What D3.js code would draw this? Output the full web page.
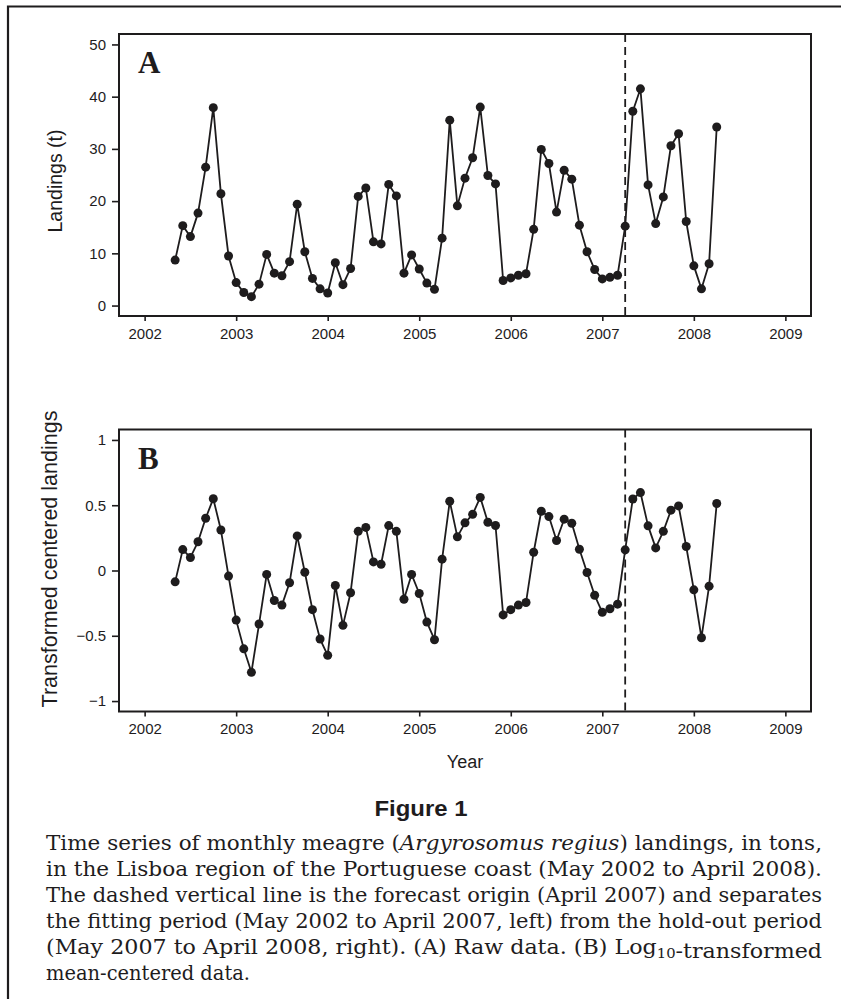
<!DOCTYPE html>
<html>
<head>
<meta charset="utf-8">
<script src="https://cdn.jsdelivr.net/npm/d3@7"></script>
<style>
  html, body { margin: 0; padding: 0; background: #fff; }
  svg { display: block; }
</style>
</head>
<body>
<svg id="fig" width="841" height="999"></svg>
<script>
// ---------------- DATA ----------------
const startYear = 2002;
const startMonth = 5; // May 2002, monthly to April 2008
const landings = [
  8.7, 15.3, 13.2, 17.7, 26.5, 37.9, 21.4, 9.5,
  4.4, 2.5, 1.7, 4.1, 9.8, 6.2, 5.7, 8.4, 19.4, 10.3, 5.2, 3.2,
  2.4, 8.2, 4.0, 7.1, 20.9, 22.5, 12.2, 11.8, 23.2, 21.0, 6.2, 9.7,
  7.0, 4.3, 3.1, 12.9, 35.5, 19.1, 24.4, 28.3, 38.0, 24.9, 23.3, 4.8,
  5.3, 5.8, 6.1, 14.6, 29.9, 27.2, 17.9, 25.9, 24.2, 15.4, 10.3, 6.9,
  5.1, 5.4, 5.8, 15.2, 37.2, 41.5, 23.1, 15.7, 20.8, 30.6, 32.9, 16.1,
  7.6, 3.2, 8.0, 34.2
];
const transformed = [
  -0.087, 0.16, 0.10, 0.22, 0.40, 0.55, 0.31, -0.043,
  -0.38, -0.60, -0.78, -0.41, -0.03, -0.23, -0.265, -0.094, 0.265, -0.013, -0.30, -0.525,
  -0.65, -0.115, -0.42, -0.17, 0.30, 0.33, 0.066, 0.048, 0.344, 0.30, -0.22, -0.03,
  -0.176, -0.395, -0.53, 0.087, 0.53, 0.258, 0.365, 0.43, 0.56, 0.37, 0.345, -0.34,
  -0.30, -0.265, -0.245, 0.14, 0.454, 0.413, 0.23, 0.393, 0.362, 0.163, -0.015, -0.19,
  -0.32, -0.293, -0.258, 0.158, 0.548, 0.597, 0.342, 0.173, 0.30, 0.462, 0.495, 0.184,
  -0.148, -0.515, -0.12, 0.513
];
const yearTicks = [2002, 2003, 2004, 2005, 2006, 2007, 2008, 2009];
const ticksA = [0, 10, 20, 30, 40, 50];
const ticksB = [-1, -0.5, 0, 0.5, 1];
const tickLabelsB = ["\u22121", "\u22120.5", "0", "0.5", "1"];
const forecastOrigin = 2007 + 3 / 12; // April 2007
const captionLines = [
  ["Time series of monthly meagre (", {i: "Argyrosomus regius"}, ") landings, in tons,"],
  ["in the Lisboa region of the Portuguese coast (May 2002 to April 2008)."],
  ["The dashed vertical line is the forecast origin (April 2007) and separates"],
  ["the fitting period (May 2002 to April 2007, left) from the hold-out period"],
  ["(May 2007 to April 2008, right). (A) Raw data. (B) Log", {sub: "10"}, "-transformed"],
  ["mean-centered data."]
];

// time coordinate (decimal year) for each month
const times = landings.map((_, i) => startYear + (startMonth - 1 + i) / 12);

// ---------------- DRAW ----------------
const svg = d3.select("#fig");
const ink = "#1e1c1d";

svg.append("path")
  .attr("d", "M8,999 V6.5 H841")
  .attr("fill", "none").attr("stroke", ink).attr("stroke-width", 2.2);

const plotLeft = 119, plotRight = 811;
const x = d3.scaleLinear().domain([2001.72, 2009.28]).range([plotLeft, plotRight]);

function panel(opts) {
  const y = d3.scaleLinear().domain(opts.ydom).range([opts.bottom, opts.top]);
  const g = svg.append("g");

  const xa = d3.axisBottom(x).tickValues(yearTicks).tickFormat(d3.format("d"))
    .tickSize(5).tickPadding(7);
  const gx = g.append("g").attr("transform", `translate(0,${opts.bottom})`).call(xa);
  gx.select(".domain").remove();
  gx.selectAll("line").attr("stroke", ink).attr("stroke-width", 1.6);
  gx.selectAll("text").attr("font-family", "Liberation Sans, Arial, sans-serif")
    .attr("font-size", 15).attr("fill", ink);

  const ya = d3.axisLeft(y).tickValues(opts.ticks)
    .tickFormat((d, i) => opts.labels ? opts.labels[i] : d3.format("d")(d))
    .tickSize(7).tickPadding(6);
  const gy = g.append("g").attr("transform", `translate(${plotLeft},0)`).call(ya);
  gy.select(".domain").remove();
  gy.selectAll("line").attr("stroke", ink).attr("stroke-width", 1.6);
  gy.selectAll("text").attr("font-family", "Liberation Sans, Arial, sans-serif")
    .attr("font-size", 15).attr("fill", ink);

  g.append("line")
    .attr("x1", x(forecastOrigin)).attr("x2", x(forecastOrigin))
    .attr("y1", opts.top).attr("y2", opts.bottom)
    .attr("stroke", ink).attr("stroke-width", 1.8)
    .attr("stroke-dasharray", "8,5");

  const line = d3.line().x((d, i) => x(times[i])).y(d => y(d));
  g.append("path").datum(opts.values)
    .attr("d", line).attr("fill", "none")
    .attr("stroke", ink).attr("stroke-width", 1.8).attr("stroke-linejoin", "round");

  g.selectAll("circle.pt").data(opts.values).join("circle")
    .attr("class", "pt")
    .attr("cx", (d, i) => x(times[i])).attr("cy", d => y(d))
    .attr("r", 4.5).attr("fill", ink);

  g.append("rect")
    .attr("x", plotLeft).attr("y", opts.top)
    .attr("width", plotRight - plotLeft).attr("height", opts.bottom - opts.top)
    .attr("fill", "none").attr("stroke", ink).attr("stroke-width", 2);

  g.append("text").attr("x", 138).attr("y", opts.top + 39)
    .attr("font-family", "Liberation Serif, Times New Roman, serif")
    .attr("font-weight", "bold").attr("font-size", 31).attr("fill", ink)
    .text(opts.letter);

  g.append("text")
    .attr("transform", `translate(${opts.ylabX},${opts.ylabY}) rotate(-90)`)
    .attr("text-anchor", "middle")
    .attr("font-family", "Liberation Sans, Arial, sans-serif")
    .attr("font-size", opts.ylabSize).attr("fill", ink)
    .text(opts.ylab);
  return y;
}

panel({ top: 34, bottom: 316, ydom: [-2, 52], ticks: ticksA, values: landings,
        letter: "A", ylab: "Landings (t)", ylabSize: 19.5, ylabX: 62, ylabY: 181 });
panel({ top: 429.5, bottom: 711.5, ydom: [-1.08, 1.08], ticks: ticksB, labels: tickLabelsB,
        values: transformed, letter: "B", ylab: "Transformed centered landings",
        ylabSize: 21.5, ylabX: 57, ylabY: 559 });

svg.append("text").attr("x", (plotLeft + plotRight) / 2).attr("y", 768)
  .attr("text-anchor", "middle")
  .attr("font-family", "Liberation Sans, Arial, sans-serif")
  .attr("font-size", 18).attr("fill", ink).text("Year");

svg.append("text").attr("x", 421).attr("y", 816)
  .attr("text-anchor", "middle")
  .attr("font-family", "Liberation Sans, Arial, sans-serif")
  .attr("font-weight", "bold").attr("font-size", 22).attr("fill", ink)
  .attr("textLength", 93).attr("lengthAdjust", "spacingAndGlyphs")
  .text("Figure 1");

const capX = 46, capW = 776, capY0 = 850, capDy = 26;
captionLines.forEach((parts, li) => {
  const t = svg.append("text")
    .attr("x", capX).attr("y", capY0 + li * capDy)
    .attr("font-family", "DejaVu Serif, serif")
    .attr("font-size", 19.5).attr("fill", ink);
  parts.forEach(p => {
    if (typeof p === "string") t.append("tspan").text(p);
    else if (p.i) t.append("tspan").attr("font-style", "italic").text(p.i);
    else if (p.sub) {
      t.append("tspan").attr("font-size", 13).attr("dy", 4).text(p.sub);
      t.append("tspan").attr("dy", -4).text("");
    }
  });
  if (li < captionLines.length - 1) {
    t.attr("textLength", capW).attr("lengthAdjust", "spacingAndGlyphs");
  } else {
    t.attr("textLength", 204).attr("lengthAdjust", "spacingAndGlyphs");
  }
});
</script>
</body>
</html>
